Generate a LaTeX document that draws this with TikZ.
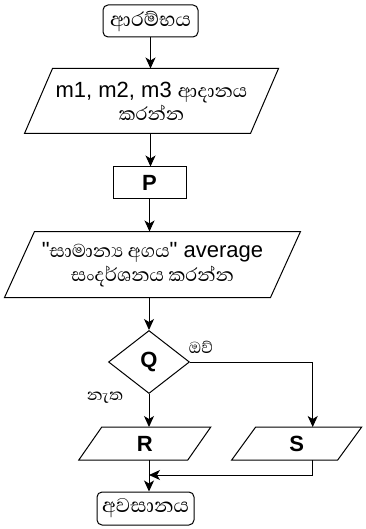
\documentclass[tikz,border=0pt]{standalone}
\usepackage{fontspec}
\setmainfont{Liberation Sans}
\newfontfamily\sinhfont[Script=Sinhala,Scale=1.08]{Abhaya Libre}
\usetikzlibrary{shapes.geometric,arrows.meta}

\tikzset{
  base/.style={draw=black, line width=1pt, align=center, inner sep=0pt,
               font=\fontsize{22}{24}\selectfont},
  terminal/.style={base, rounded corners=5pt, minimum width=95pt, minimum height=32pt,
                   font=\fontsize{23.5}{25}\selectfont\sinhfont},
  process/.style={base, rectangle, minimum width=73pt, minimum height=32pt},
  io/.style={base, draw=none, rectangle},
  decision/.style={base, diamond, minimum width=81pt, minimum height=63pt},
  letter/.style={font=\fontsize{22}{24}\selectfont\bfseries},
  flow/.style={draw=black, line width=1pt, -{Stealth[length=11pt,width=10pt,inset=3pt]}},
  plain/.style={draw=black, line width=1pt, line join=miter},
  tag/.style={font=\fontsize{19}{21}\selectfont\sinhfont, inner sep=0pt}
}

% outline of an input/output step: node #1, horizontal lean #2
\newcommand\drawslant[2]{%
  \draw[plain] ([xshift=#2/2]#1.north west) -- ([xshift=#2/2]#1.north east)
    -- ([xshift=-#2/2]#1.south east) -- ([xshift=-#2/2]#1.south west) -- cycle;}

\begin{document}
\begin{tikzpicture}[x=1pt,y=-1pt]
\useasboundingbox (0,0) rectangle (366,529);

% steps of the flow
\node[terminal] (start) at (150.5,21) {ආරම්භය};
\node[io, minimum width=225pt, minimum height=64pt] (read) at (151.5,101)
  {\raisebox{-3pt}{m1, m2, m3 {\sinhfont ආදානය}}\\[-1pt]\raisebox{-3pt}{\sinhfont කරන්න}};
\drawslant{read}{28pt}
\node[process, letter] (P) at (149.5,183) {P};
\node[io, minimum width=265pt, minimum height=65pt] (show) at (152.5,264.5)
  {\textquotedbl{\sinhfont සාමාන්‍ය අගය}\textquotedbl{} average\\{\sinhfont සංදර්ශනය කරන්න}};
\drawslant{show}{30pt}
\node[decision, letter] (Q) at (149,362) {Q};
\node[io, letter, minimum width=108pt, minimum height=32pt] (R) at (144.8,443.5) {R};
\drawslant{R}{23pt}
\node[io, letter, minimum width=105pt, minimum height=32pt] (S) at (296.7,443.5) {S};
\drawslant{S}{24pt}
\node[terminal, minimum width=97pt, minimum height=33pt] (end) at (145.5,508.5) {අවසානය};

% branch labels
\node[tag] (yes) at (201,347) {ඔව්};
\node[tag] (no) at (105,398) {නැත};

% connectors
\draw[flow] (start.south) -- (start.south |- read.north);
\draw[flow] (start.south |- read.south) -- (start.south |- P.north);
\draw[flow] (P.south) -- (P.south |- show.north);
\draw[flow] (Q.north |- show.south) -- (Q.north);
\draw[flow] (Q.south) -- (Q.south |- R.north);
\draw[flow] (Q.east) -| ([xshift=16pt]S.north);
\draw[flow] (Q.south |- R.south) -- (Q.south |- end.north);
\coordinate (join) at (Q.south |- 0,475);
\draw[plain] ([xshift=16pt]S.south) |- ([xshift=2pt]join);
\draw[flow] ([xshift=20pt]join) -- ([xshift=0pt]join);
\end{tikzpicture}
\end{document}
